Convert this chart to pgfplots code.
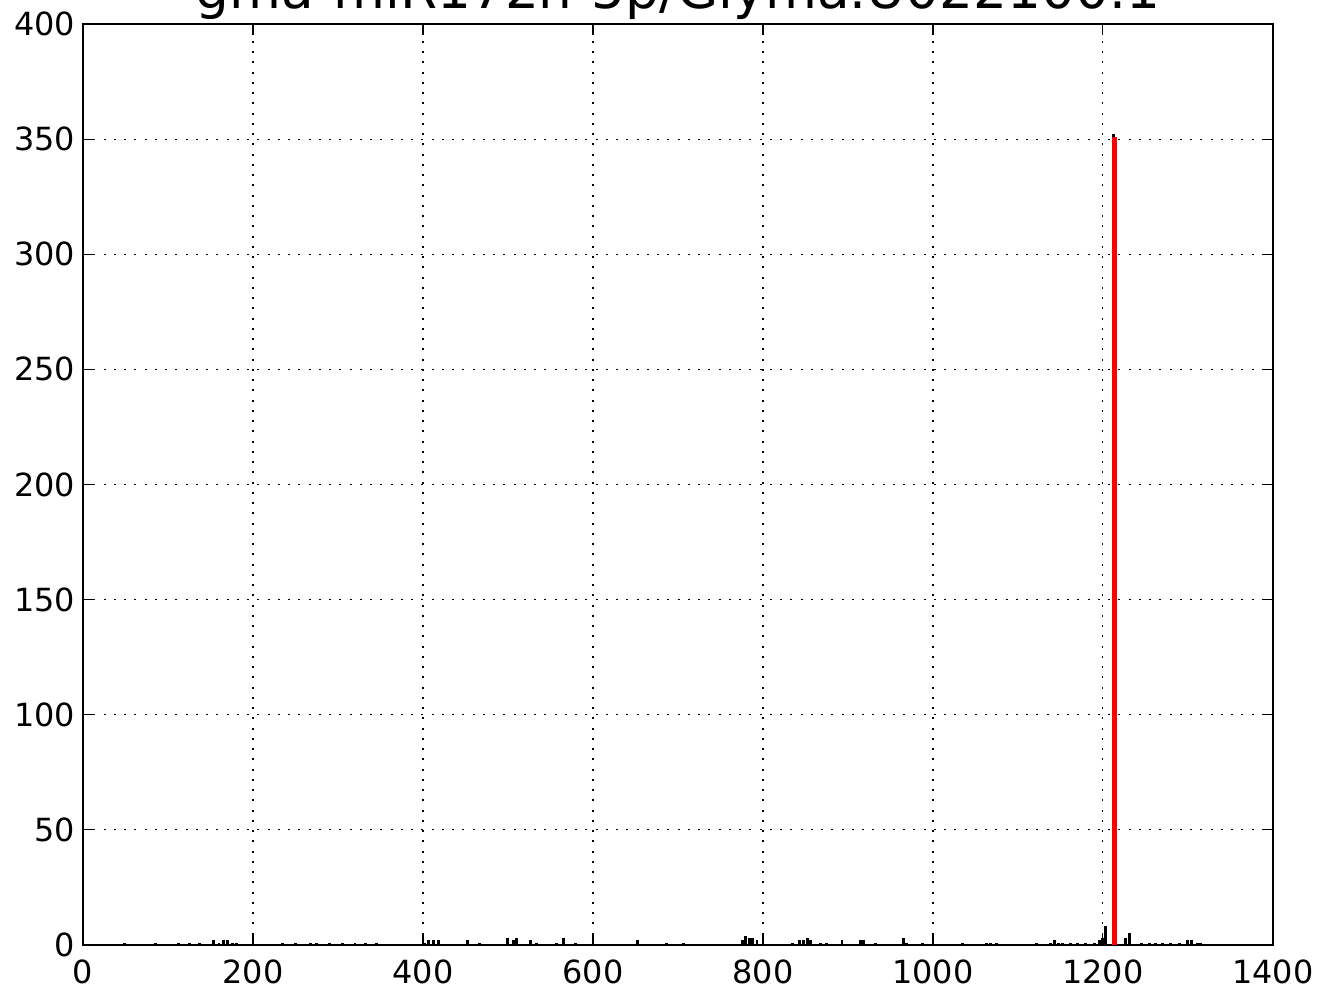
\documentclass[border=0pt]{standalone}
\usepackage{pgfplots}
\pgfplotsset{compat=1.18}
\usepackage{fontspec}
\setmainfont{DejaVu Sans}
\begin{document}
\begin{tikzpicture}
\useasboundingbox (0,0) rectangle (578.2pt,432.4pt);
\begin{scope}
\clip (0,0) rectangle (578.2pt,432.4pt);
\begin{axis}[at={(36.44pt,17.56pt)}, anchor=south west, scale only axis,
  width=522.4pt, height=404.3pt,
  xmin=0, xmax=1400, ymin=0, ymax=400,
  xtick={0,200,...,1400}, ytick={0,50,...,400},
  grid=major, grid style={black, line width=0.5pt, dash pattern=on 0.9pt off 3.6pt},
  axis line style={black, line width=0.9pt},
  tick align=inside, major tick length=4.8pt, tick style={black, line width=0.5pt},
  ticklabel style={font=\fontsize{14}{16}\selectfont},
  xticklabel style={inner ysep=1pt, yshift=-5.4pt},
  /pgf/number format/assume math mode=true, /pgf/number format/1000 sep={},
  title={gma-miR172h-5p/Glyma.U022100.1},
  title style={font=\fontsize{23.4}{28}\selectfont, at={(0.5,1)}, anchor=base, yshift=0.6pt, inner sep=0pt},
]
\addplot[black, line width=0.9pt, mark=none] coordinates {(0,0) (1314,0)};
\addplot[ycomb, black, line width=1.3pt, mark=none] coordinates {
(49,1) (85,1) (112,1) (125,1) (137,1) (153,2) (160,1) (165,2) (170,2) (176,1) (181,1)
(235,1) (250,1) (268,1) (275,1) (290,1) (305,1) (320,1) (332,1) (345,1)
(402,1) (407,2) (412,2) (418,2) (452,2) (467,1) (500,3) (507,2) (510,3) (526,2) (534,1)
(557,1) (565,3) (579,1) (652,2) (687,1) (706,1) (776,2) (780,4) (784,3) (788,3) (793,2)
(835,1) (843,2) (848,2) (852,3) (856,2) (868,1) (875,1) (893,2) (915,2) (918,2) (932,1)
(965,3) (969,1) (988,1) (1035,1) (1063,1) (1068,1) (1075,1) (1122,1) (1138,1) (1143,2)
(1148,1) (1153,1) (1162,1) (1170,1) (1180,1) (1190,1) (1196,2) (1200,3) (1203,8)
(1212,352) (1226,3) (1231,5) (1245,1) (1255,1) (1262,1) (1270,1) (1280,1) (1290,1)
(1300,2) (1304,2) (1311,1) (1315,1)
};
\addplot[red, line width=2.2pt, mark=none] coordinates {(1213.5,0) (1213.5,351)};
\end{axis}
\end{scope}
\end{tikzpicture}
\end{document}
